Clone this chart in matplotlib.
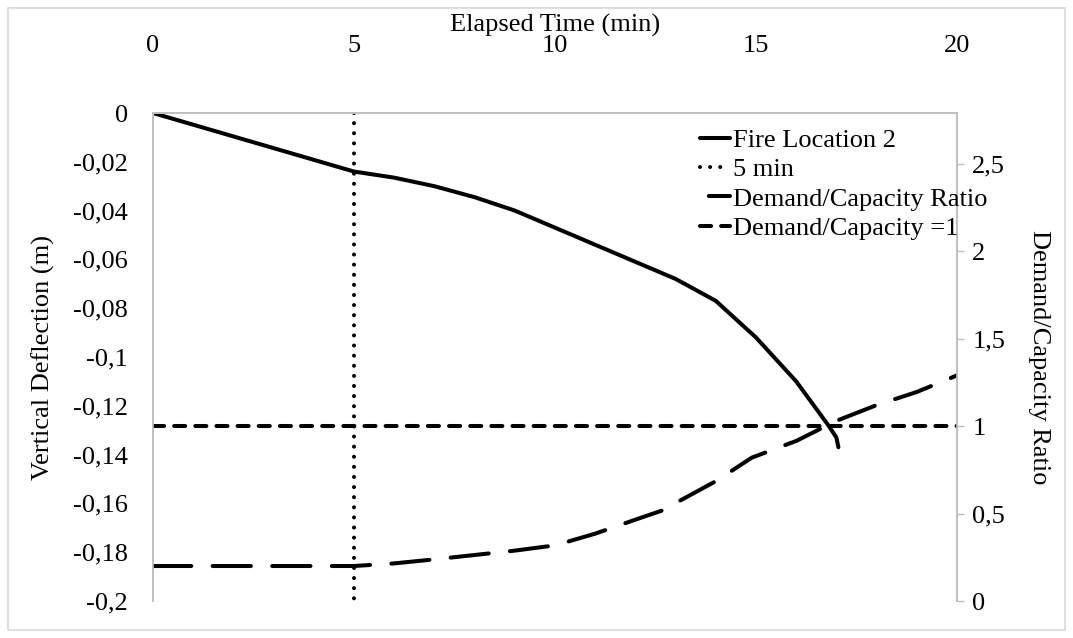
import matplotlib
matplotlib.use("Agg")
import matplotlib.pyplot as plt
from matplotlib.lines import Line2D
from matplotlib.ticker import FuncFormatter, MultipleLocator
from matplotlib.patches import Rectangle

plt.rcParams['font.family'] = ['Liberation Serif', 'DejaVu Serif']
plt.rcParams['font.size'] = 19

# deflection history, fire location 2
time_defl = [0, 5, 6, 7, 8, 9, 10, 11, 12, 13, 14, 15, 16, 16.8, 17.0, 17.05]
deflection = [0, -0.024, -0.0265, -0.030, -0.0345, -0.040, -0.047, -0.054,
              -0.061, -0.068, -0.077, -0.092, -0.110, -0.128, -0.133, -0.137]

# demand / capacity ratio of the member
time_dc = [0, 5, 6, 7, 8, 9, 10, 11, 12, 12.7, 13, 14, 14.9, 16, 17, 18, 19, 20]
dc_ratio = [0.2, 0.2, 0.215, 0.238, 0.263, 0.288, 0.318, 0.385, 0.465, 0.52,
            0.56, 0.685, 0.82, 0.915, 1.03, 1.12, 1.195, 1.29]

marker_time = [5, 5]
marker_defl = [0, -0.2]
limit_time = [0, 20]
limit_ratio = [1, 1]

gray = '#BFBFBF'
lw = 2.9
long_dash = (9.5, 5.3)


def comma(v, pos):
    v = round(v, 6)
    if v == 0:
        return '0'
    return ('%g' % v).replace('.', ',')


fig = plt.figure(figsize=(10.73, 6.38), dpi=100)
fig.patches.append(Rectangle((0.007, 0.012), 0.986, 0.976, transform=fig.transFigure,
                             fill=False, edgecolor='#D9D9D9', linewidth=1.2))

ax = fig.add_axes([153 / 1073, 1 - 601 / 638, 804 / 1073, 488 / 638])
ax2 = ax.twinx()

l1, = ax.plot(time_defl, deflection, color='black', lw=lw, label='Fire Location 2',
              solid_capstyle='round', solid_joinstyle='round')
l2, = ax.plot(marker_time, marker_defl, color='black', lw=lw, label='5 min',
              linestyle=(0, (0.01, 2.5)), dash_capstyle='round')
ax2.plot(time_dc, dc_ratio, color='black', lw=lw,
         linestyle=(0, long_dash), dash_capstyle='round')
l4, = ax2.plot(limit_time, limit_ratio, color='black', lw=lw, label='Demand/Capacity =1',
               linestyle=(0, (2.75, 2.5)), dash_capstyle='round')

# legend sample for the ratio curve, shifted so a dash shows in the short handle
l3 = Line2D([], [], color='black', lw=lw, label='Demand/Capacity Ratio',
            linestyle=(sum(long_dash) - 2.2, long_dash), dash_capstyle='round')

ax.set_xlim(0, 20)
ax.set_ylim(-0.2, 0)
ax2.set_ylim(0, 2.79)

ax.xaxis.set_major_locator(MultipleLocator(5))
ax.yaxis.set_major_locator(MultipleLocator(0.02))
ax2.yaxis.set_major_locator(MultipleLocator(0.5))
ax.yaxis.set_major_formatter(FuncFormatter(comma))
ax2.yaxis.set_major_formatter(FuncFormatter(comma))

ax.xaxis.tick_top()
ax.xaxis.set_label_position('top')
ax.tick_params(axis='x', length=0, pad=40)
ax.tick_params(axis='y', length=0, pad=18)
ax2.tick_params(axis='y', length=5, width=1, color=gray, pad=6)

for a in (ax, ax2):
    a.spines['bottom'].set_visible(False)
    for s in ('top', 'left', 'right'):
        a.spines[s].set_color(gray)
        a.spines[s].set_linewidth(1.2)

ax.set_xlabel('Elapsed Time (min)', labelpad=3)
ax.set_ylabel('Vertical Deflection (m)', labelpad=13)
ax2.set_ylabel('Demand/Capacity Ratio', rotation=270, labelpad=32)

ax2.legend(handles=[l1, l2, l3, l4], loc='upper left', bbox_to_anchor=(0.68, 0.968),
           frameon=False, handlelength=1.15, handletextpad=0.12, labelspacing=0.22,
           borderpad=0, borderaxespad=0)

fig.savefig('out.png', dpi=100)
